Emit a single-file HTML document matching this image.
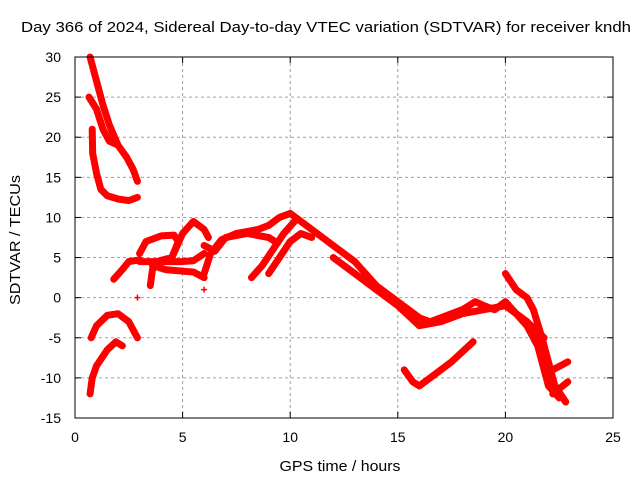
<!DOCTYPE html>
<html><head><meta charset="utf-8"><style>
body{margin:0;background:#fff}
svg text{font-family:"Liberation Sans",sans-serif;font-size:14px;fill:#000}
</style></head><body>
<svg id="c" width="640" height="480">
<text x="326" y="32" text-anchor="middle" textLength="610" lengthAdjust="spacingAndGlyphs" style="font-size:15px">Day 366 of 2024, Sidereal Day-to-day VTEC variation (SDTVAR) for receiver kndh</text>
<text x="340" y="471" text-anchor="middle" textLength="121" lengthAdjust="spacingAndGlyphs" style="font-size:15px">GPS time / hours</text>
<text transform="translate(20,240) rotate(-90)" text-anchor="middle" textLength="130" lengthAdjust="spacingAndGlyphs" style="font-size:15px">SDTVAR / TECUs</text>
<g id="grid"></g><g id="data"></g><g id="axes"></g>
</svg>
<script>
const xTicks=[0,5,10,15,20,25];
const yTicks=[-15,-10,-5,0,5,10,15,20,25,30];
const track1=[[0.7,30],[1.0,27],[1.3,24],[1.6,21.5],[2.0,19],[2.4,17.5],[2.7,16],[2.9,14.5]];
const track2=[[0.65,25],[1.0,23.5],[1.3,21],[1.6,19.5],[2.0,19]];
const track3=[[0.8,21],[0.82,18],[1.0,15.5],[1.2,13.5],[1.5,12.7],[2.0,12.3],[2.5,12.1],[2.9,12.5]];
const track4=[[0.75,-5],[1.0,-3.5],[1.5,-2.2],[2.0,-2],[2.5,-3],[2.9,-5]];
const track5=[[0.7,-12],[0.8,-10],[1.0,-8.5],[1.5,-6.5],[1.9,-5.5],[2.2,-6]];
const track6=[[1.8,2.3],[2.2,3.5],[2.5,4.5],[3.0,4.7]];
const track7=[[3.0,5.5],[3.3,7],[4.0,7.7],[4.6,7.8],[4.8,7],[4.5,5],[3.8,4.5],[3.0,4.5]];
const track8=[[3.5,1.5],[3.6,3.5],[3.8,4.5],[4.5,4.5],[5.0,4.5],[5.5,4.6],[6.0,5.5]];
const track9=[[4.5,5],[5.0,8],[5.5,9.5],[6.0,8.5],[6.2,7.5]];
const track10=[[3.6,4.0],[4.2,3.5],[5.0,3.3],[5.5,3.2],[6.0,2.5]];
const track11=[[6.0,6.5],[6.5,5.8],[7.0,7.5],[8.0,8],[9.0,7.5],[9.3,7]];
const track12=[[6.0,3],[6.3,5.5],[6.8,7.2],[7.5,8],[8.5,8.5],[9.0,9],[9.5,10],[10.0,10.5],[10.5,9.5],[11,8.5],[11.5,7.5],[12,6.5],[12.5,5.5],[13,4.5],[13.5,3],[14,1.5],[14.5,0.5],[15,-0.5],[15.5,-1.5],[16,-2.5],[16.5,-3],[17,-2.5],[17.5,-2],[18,-1.5],[18.6,-0.5],[19,-1],[19.5,-1.5],[20,-0.5],[20.5,-2],[21,-3],[21.5,-5],[22,-9],[22.3,-11],[22.8,-13]];
const track13=[[8.2,2.5],[8.7,4],[9.2,6],[9.7,8],[10.2,9.5]];
const track14=[[9.0,3],[9.5,5],[10,7],[10.5,8],[11,7.5]];
const track15=[[12,5],[13,3],[14,1],[15,-1],[16,-3.5],[17,-3],[18,-2],[19,-1.5],[20,-1],[21,-3],[21.8,-5]];
const track16=[[15.3,-9],[15.7,-10.5],[16,-11],[16.5,-10],[17.5,-8],[18.5,-5.5]];
const track17=[[20,3],[20.5,1],[21,0],[21.3,-1.5],[21.7,-5],[22,-8],[22.3,-11],[22.8,-13]];
const track18=[[20.5,-2],[21,-3.5],[21.5,-6],[22,-11],[22.5,-12.5]];
const track19=[[22.2,-12],[22.9,-10.5]];
const track20=[[22.2,-9],[22.9,-8]];
const tracks=[track1,track2,track3,track4,track5,track6,track7,track8,track9,track10,track11,track12,track13,track14,track15,track16,track17,track18,track19,track20];
const singles=[[2.9,0],[6.0,1]];
const X0=75,X1=613,Y0=418,Y1=57;
const xs=v=>X0+(v-0)/(25-0)*(X1-X0);
const ys=v=>Y0-(v+15)/(45)*(Y0-Y1);
const NS="http://www.w3.org/2000/svg";
const mk=(t,a,p)=>{const e=document.createElementNS(NS,t);for(const k in a)e.setAttribute(k,a[k]);p.appendChild(e);return e;};
const grid=document.getElementById('grid'),axes=document.getElementById('axes'),data=document.getElementById('data');
xTicks.forEach(t=>{const x=xs(t);
 if(t>0&&t<25){const l=mk('line',{x1:x,x2:x,y1:Y1,y2:Y0,stroke:'#a0a0a0','stroke-dasharray':'3,3'},grid);}
 mk('line',{x1:x,x2:x,y1:Y0,y2:Y0-6,stroke:'#000'},axes);mk('line',{x1:x,x2:x,y1:Y1,y2:Y1+6,stroke:'#000'},axes);
 const tx=mk('text',{x:x,y:Y0+24,'text-anchor':'middle'},axes);tx.textContent=t;
 });
yTicks.forEach(t=>{const y=ys(t);
 if(t>-15&&t<30){const l=mk('line',{x1:X0,x2:X1,y1:y,y2:y,stroke:'#a0a0a0','stroke-dasharray':'3,3'},grid);}
 mk('line',{x1:X0,x2:X0+6,y1:y,y2:y,stroke:'#000'},axes);mk('line',{x1:X1,x2:X1-6,y1:y,y2:y,stroke:'#000'},axes);
 const tx=mk('text',{x:X0-14,y:y+5,'text-anchor':'end'},axes);tx.textContent=t;
 });
const fr=mk('rect',{x:X0,y:Y1,width:X1-X0,height:Y0-Y1,fill:'none',stroke:'#000'},axes);

tracks.forEach(tr=>{
 const p=mk('polyline',{points:tr.map(d=>xs(d[0])+','+ys(d[1])).join(' '),fill:'none',stroke:'#ff0000','stroke-width':7,'stroke-linejoin':'round','stroke-linecap':'round'},data);
 
 });
singles.forEach(d=>{
 const p=mk('path',{d:`M${xs(d[0])-3},${ys(d[1])}h6M${xs(d[0])},${ys(d[1])-3}v6`,stroke:'#ff0000','stroke-width':1.5},data);
 
 });
</script>
</body></html>
